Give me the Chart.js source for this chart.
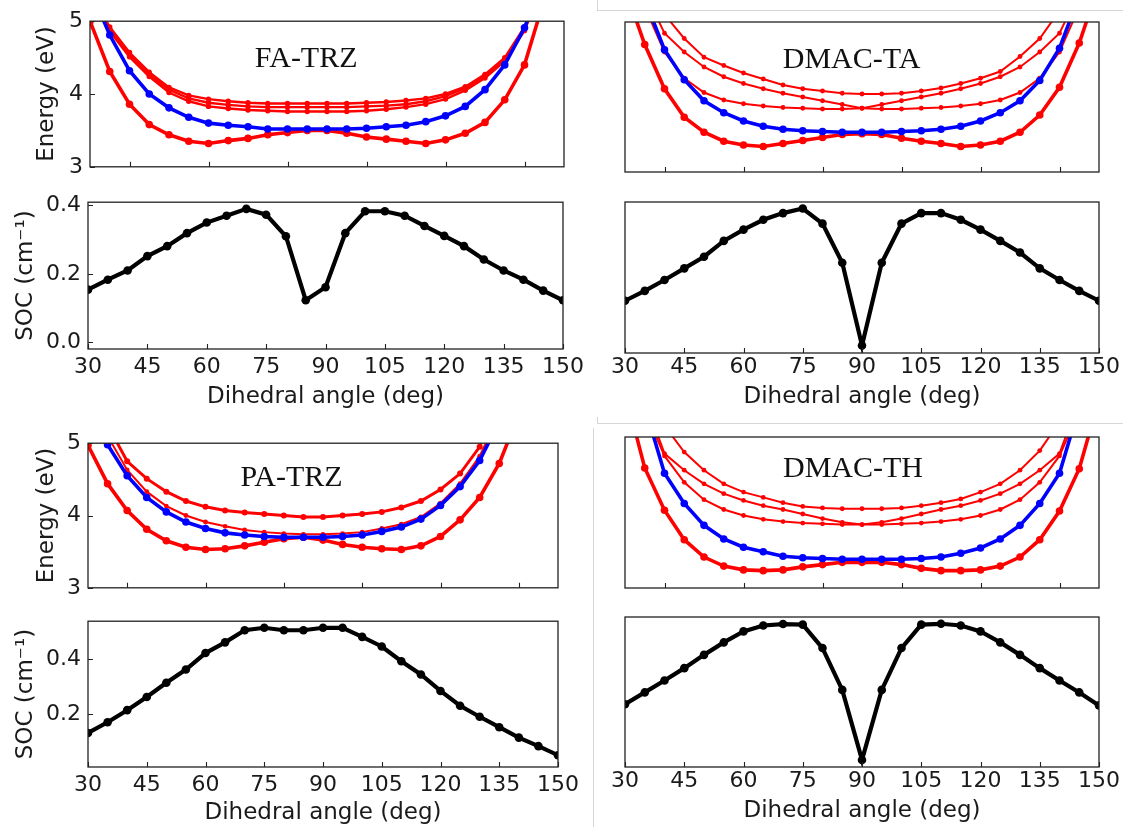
<!DOCTYPE html>
<html>
<head>
<meta charset="utf-8">
<script src="https://cdn.jsdelivr.net/npm/chart.js@4.4.0/dist/chart.umd.min.js"></script>
<style>
html,body{margin:0;padding:0;background:#fff;overflow:hidden;width:1123px;height:827px;}
canvas{position:absolute;}
.frame{position:absolute;background:#d6d6d6;}
</style>
</head>
<body>
<div class="frame" style="left:597px;top:10px;width:526px;height:1px"></div>
<div class="frame" style="left:597px;top:0px;width:1px;height:10px"></div>
<div class="frame" style="left:597px;top:423px;width:526px;height:1px"></div>
<div class="frame" style="left:597px;top:417px;width:1px;height:6px"></div>
<div class="frame" style="left:593px;top:428px;width:1px;height:399px"></div>
<script>
// ---------------- data ----------------
const angles = [30,35,40,45,50,55,60,65,70,75,80,85,90,95,100,105,110,115,120,125,130,135,140,145,150];
const energyXTicks = [40,60,80,100,120,140];
const socXTicks = [30,45,60,75,90,105,120,135,150];
const energyYTicks = [3,4,5];
const socYTicksTop = [0.0,0.2,0.4];
const socYTicksBottom = [0.2,0.4];

// FA-TRZ
const faLow  = [5.0,4.31,3.86,3.58,3.44,3.35,3.32,3.36,3.39,3.44,3.47,3.50,3.50,3.46,3.41,3.38,3.35,3.32,3.37,3.46,3.61,3.92,4.40,5.3,6.2];
const faBlue = [5.45,4.81,4.32,4.00,3.81,3.68,3.60,3.57,3.55,3.52,3.52,3.52,3.52,3.52,3.53,3.55,3.57,3.62,3.70,3.83,4.06,4.40,4.91,5.6,6.4];
const faUp1  = [5.4,4.92,4.57,4.30,4.09,3.98,3.93,3.90,3.88,3.87,3.87,3.87,3.87,3.87,3.88,3.89,3.91,3.94,4.00,4.10,4.27,4.50,4.92,5.6,6.4];
const faUp2  = [5.38,4.89,4.54,4.27,4.06,3.94,3.88,3.85,3.83,3.82,3.82,3.82,3.82,3.82,3.83,3.84,3.86,3.90,3.97,4.08,4.25,4.48,4.90,5.58,6.4];
const faUp3  = [5.35,4.86,4.51,4.24,4.02,3.90,3.83,3.80,3.78,3.77,3.76,3.76,3.76,3.76,3.77,3.79,3.82,3.86,3.93,4.05,4.22,4.45,4.87,5.55,6.4];
const faSOC  = [0.154,0.183,0.21,0.252,0.281,0.319,0.35,0.37,0.39,0.373,0.31,0.123,0.161,0.319,0.383,0.383,0.37,0.34,0.311,0.281,0.242,0.21,0.183,0.151,0.123];

// DMAC-TA
const taLow  = [5.45,4.70,4.11,3.73,3.53,3.41,3.36,3.34,3.38,3.42,3.46,3.50,3.51,3.50,3.45,3.41,3.38,3.34,3.36,3.41,3.53,3.76,4.13,4.72,5.5];
const taBlue = [6.2,5.3,4.63,4.23,3.95,3.79,3.68,3.61,3.57,3.55,3.54,3.53,3.53,3.53,3.54,3.55,3.57,3.61,3.68,3.79,3.95,4.22,4.65,5.35,6.2];
const taUpT  = [6.6,5.7,5.1,4.78,4.53,4.42,4.32,4.24,4.16,4.11,4.08,4.05,4.04,4.04,4.05,4.08,4.12,4.18,4.25,4.34,4.54,4.78,5.15,5.8,6.6];
const taUpA  = [6.3,5.4,4.85,4.6,4.4,4.27,4.18,4.11,4.05,4.0,3.95,3.9,3.85,3.84,3.84,3.85,3.86,3.88,3.91,3.96,4.06,4.25,4.6,5.2,6.1];
const taUpB  = [6.1,5.2,4.6,4.25,4.06,3.96,3.91,3.88,3.86,3.85,3.84,3.84,3.85,3.9,3.95,4.0,4.05,4.11,4.18,4.27,4.4,4.6,4.85,5.4,6.3];
const taSOC  = [0.129,0.157,0.188,0.221,0.254,0.299,0.331,0.359,0.378,0.391,0.348,0.237,0.002,0.237,0.348,0.378,0.378,0.359,0.331,0.299,0.266,0.221,0.188,0.157,0.129];

// PA-TRZ
const paLow  = [4.97,4.44,4.07,3.81,3.65,3.56,3.53,3.54,3.58,3.63,3.68,3.70,3.66,3.60,3.56,3.54,3.53,3.58,3.71,3.94,4.25,4.72,5.4,6.2,7.0];
const paBlue = [5.6,4.98,4.55,4.25,4.05,3.91,3.82,3.76,3.73,3.71,3.70,3.70,3.70,3.71,3.73,3.78,3.84,3.95,4.14,4.40,4.76,5.3,6.0,6.8,7.5];
const paUpT  = [6.0,5.25,4.75,4.51,4.33,4.2,4.12,4.07,4.04,4.02,4.0,3.98,3.98,4.0,4.02,4.05,4.11,4.2,4.36,4.58,4.95,5.6,6.3,7.0,7.7];
const paUpM  = [5.8,5.1,4.63,4.33,4.13,4.0,3.91,3.85,3.8,3.77,3.75,3.74,3.74,3.75,3.77,3.82,3.88,3.98,4.17,4.44,4.82,5.4,6.1,6.8,7.5];
const paSOC  = [0.131,0.17,0.214,0.262,0.314,0.362,0.422,0.461,0.505,0.514,0.505,0.505,0.514,0.514,0.481,0.446,0.392,0.344,0.284,0.23,0.19,0.152,0.114,0.083,0.05];

// DMAC-TH
const thLow  = [5.6,4.59,4.03,3.64,3.41,3.29,3.24,3.23,3.24,3.28,3.31,3.34,3.34,3.34,3.31,3.26,3.23,3.23,3.24,3.29,3.41,3.64,4.02,4.58,5.5];
const thBlue = [6.3,5.4,4.52,4.12,3.83,3.65,3.54,3.48,3.42,3.40,3.39,3.38,3.38,3.38,3.38,3.39,3.41,3.46,3.53,3.65,3.83,4.12,4.52,5.4,6.3];
const thUpT  = [6.8,5.9,5.15,4.8,4.56,4.38,4.27,4.2,4.13,4.08,4.06,4.05,4.05,4.05,4.06,4.09,4.13,4.18,4.27,4.38,4.56,4.82,5.2,5.9,6.8];
const thUpA  = [6.5,5.5,4.78,4.56,4.38,4.25,4.16,4.09,4.04,3.98,3.92,3.87,3.84,3.84,3.85,3.86,3.88,3.91,3.96,4.04,4.17,4.4,4.75,5.35,6.3];
const thUpB  = [6.3,5.35,4.75,4.4,4.17,4.04,3.96,3.91,3.88,3.86,3.85,3.84,3.84,3.87,3.92,3.98,4.04,4.09,4.16,4.25,4.38,4.56,4.78,5.5,6.5];
const thSOC  = [0.229,0.271,0.313,0.357,0.404,0.448,0.487,0.508,0.513,0.511,0.428,0.280,0.032,0.280,0.428,0.511,0.514,0.508,0.487,0.448,0.404,0.357,0.313,0.271,0.225];

// ---------------- styling ----------------
const RED = '#ff0000', BLUE = '#0000ff', BLACK = '#000000';
const FONT = 'DejaVu Sans';
const TXT = '#1a1a1a';

function ds(values, color, width, radius) {
  return {
    data: angles.map((a, i) => ({ x: a, y: values[i] })),
    borderColor: color, backgroundColor: color,
    borderWidth: width, pointRadius: radius, pointHoverRadius: 0,
    pointBackgroundColor: color, pointBorderWidth: 0,
    tension: 0, fill: false
  };
}

const framePlugin = {
  id: 'frameTicks',
  afterDraw(chart, args, opts) {
    const { ctx, chartArea: { left, right, top, bottom } } = chart;
    ctx.save();
    ctx.strokeStyle = '#222';
    ctx.lineWidth = 1.3;
    ctx.strokeRect(left, top, right - left, bottom - top);
    ctx.lineWidth = 1.1;
    ctx.beginPath();
    const xs = chart.scales.x;
    xs.ticks.forEach(t => {
      const px = Math.round(xs.getPixelForValue(t.value)) + 0.5;
      ctx.moveTo(px, bottom); ctx.lineTo(px, bottom - 5);
    });
    if (opts.yTicks) {
      const ys = chart.scales.y;
      ys.ticks.forEach(t => {
        const py = Math.round(ys.getPixelForValue(t.value)) + 0.5;
        ctx.moveTo(left, py); ctx.lineTo(left + 5, py);
      });
    }
    ctx.stroke();
    ctx.restore();
  }
};

const labelPlugin = {
  id: 'panelLabel',
  afterDatasetsDraw(chart, args, opts) {
    if (!opts.text) return;
    const { ctx, chartArea: { left, right, top, bottom } } = chart;
    ctx.save();
    ctx.font = '30px "Liberation Serif", "DejaVu Serif", serif';
    ctx.fillStyle = '#111';
    ctx.textAlign = 'center';
    ctx.textBaseline = 'alphabetic';
    ctx.fillText(opts.text, left + opts.fx * (right - left), top + opts.fy * (bottom - top) + 10);
    ctx.restore();
  }
};

function makePanel(p) {
  const cv = document.createElement('canvas');
  const [l, r, t, b] = p.box;
  const W = p.yAxisW + p.padL + (r - l) + p.padR;
  const H = p.padT + (b - t) + p.xAxisH + p.padB;
  cv.width = W; cv.height = H;
  cv.style.left = (l - p.yAxisW - p.padL) + 'px';
  cv.style.top = (t - p.padT) + 'px';
  cv.style.width = W + 'px'; cv.style.height = H + 'px';
  document.body.appendChild(cv);
  const tickFont = { family: FONT, size: 22, lineHeight: 1.2 };
  const titleFont = { family: FONT, size: 23, lineHeight: 1.2 };
  new Chart(cv.getContext('2d'), {
    type: 'line',
    data: { datasets: p.datasets },
    plugins: [framePlugin, labelPlugin],
    options: {
      responsive: false, animation: false, events: [],
      layout: { autoPadding: false, padding: { left: p.padL, right: p.padR, top: p.padT, bottom: p.padB } },
      plugins: {
        legend: { display: false }, tooltip: { enabled: false },
        frameTicks: { yTicks: p.yTickMarks },
        panelLabel: p.label || {}
      },
      scales: {
        x: {
          type: 'linear', min: 30, max: 150,
          afterBuildTicks: s => { s.ticks = p.xTicks.map(v => ({ value: v })); },
          afterFit: s => { s.height = p.xAxisH; },
          grid: { display: false, drawTicks: false }, border: { display: false },
          ticks: { display: p.xLabels, font: tickFont, color: TXT, padding: p.xTickPad, maxRotation: 0, autoSkip: false, callback: v => String(v) },
          title: { display: p.xLabels, text: 'Dihedral angle (deg)', font: titleFont, color: TXT, padding: { top: 0, bottom: 0 } }
        },
        y: {
          type: 'linear', min: p.yMin, max: p.yMax,
          afterBuildTicks: s => { s.ticks = p.yTicks.map(v => ({ value: v })); },
          afterFit: s => { s.width = p.yAxisW; },
          grid: { display: false, drawTicks: false }, border: { display: false },
          ticks: { display: p.yLabels, font: tickFont, color: TXT, padding: 7, callback: p.yFmt },
          title: { display: !!p.yTitle, text: p.yTitle || '', font: titleFont, color: TXT, padding: { top: p.yTitlePad || 0, bottom: 0 } }
        }
      }
    }
  });
}

const eFmt = v => String(v);
const sFmt = v => v.toFixed(1);

const W_MAIN = 3.6, R_MAIN = 3.8, W_THIN = 2.0, R_THIN = 2.4, W_SOC = 4.2, R_SOC = 4.3;

// FA-TRZ energy
makePanel({ box: [90, 564, 19, 169], yAxisW: 90, padL: 0, padR: 4, padT: 18, padB: 18, xAxisH: 0,
  xTicks: energyXTicks, xLabels: false, xTickPad: 0,
  yMin: 3, yMax: 5, yTicks: energyYTicks, yLabels: true, yFmt: eFmt, yTitle: 'Energy (eV)', yTitlePad: 33, yTickMarks: true,
  label: { text: 'FA-TRZ', fx: 0.456, fy: 0.247 },
  datasets: [ds(faBlue, BLUE, W_MAIN, R_MAIN), ds(faLow, RED, W_MAIN, R_MAIN), ds(faUp3, RED, 2.4, 2.7), ds(faUp2, RED, 2.4, 2.7), ds(faUp1, RED, 2.4, 2.7)] });

// FA-TRZ SOC
makePanel({ box: [88, 563, 200, 349], yAxisW: 88, padL: 0, padR: 28, padT: 18, padB: 4, xAxisH: 62,
  xTicks: socXTicks, xLabels: true, xTickPad: 5,
  yMin: -0.0195, yMax: 0.4095, yTicks: socYTicksTop, yLabels: true, yFmt: sFmt, yTitle: 'SOC (cm\u207B\u00B9)', yTitlePad: 12, yTickMarks: true,
  datasets: [ds(faSOC, BLACK, W_SOC, R_SOC)] });

// DMAC-TA energy
makePanel({ box: [625, 1099, 22, 172], yAxisW: 0, padL: 4, padR: 4, padT: 4, padB: 4, xAxisH: 0,
  xTicks: energyXTicks, xLabels: false, xTickPad: 0,
  yMin: 3, yMax: 5, yTicks: energyYTicks, yLabels: false, yFmt: eFmt, yTickMarks: false,
  label: { text: 'DMAC-TA', fx: 0.478, fy: 0.241 },
  datasets: [ds(taBlue, BLUE, W_MAIN, R_MAIN), ds(taLow, RED, W_MAIN, R_MAIN), ds(taUpB, RED, W_THIN, R_THIN), ds(taUpA, RED, W_THIN, R_THIN), ds(taUpT, RED, W_THIN, R_THIN)] });

// DMAC-TA SOC
makePanel({ box: [625, 1099, 202, 353], yAxisW: 0, padL: 20, padR: 24, padT: 4, padB: 4, xAxisH: 58,
  xTicks: socXTicks, xLabels: true, xTickPad: 1,
  yMin: -0.0195, yMax: 0.4095, yTicks: socYTicksTop, yLabels: false, yFmt: sFmt, yTickMarks: false,
  datasets: [ds(taSOC, BLACK, W_SOC, R_SOC)] });

// PA-TRZ energy
makePanel({ box: [88, 558, 441, 590], yAxisW: 88, padL: 0, padR: 4, padT: 18, padB: 18, xAxisH: 0,
  xTicks: energyXTicks, xLabels: false, xTickPad: 0,
  yMin: 3, yMax: 5, yTicks: energyYTicks, yLabels: true, yFmt: eFmt, yTitle: 'Energy (eV)', yTitlePad: 33, yTickMarks: true,
  label: { text: 'PA-TRZ', fx: 0.433, fy: 0.228 },
  datasets: [ds(paBlue, BLUE, W_MAIN, R_MAIN), ds(paLow, RED, W_MAIN, R_MAIN), ds(paUpM, RED, W_THIN, R_THIN), ds(paUpT, RED, 3, 3)] });

// PA-TRZ SOC
makePanel({ box: [88, 558, 619, 767], yAxisW: 88, padL: 0, padR: 28, padT: 18, padB: 0, xAxisH: 60,
  xTicks: socXTicks, xLabels: true, xTickPad: 5,
  yMin: 0.007, yMax: 0.538, yTicks: socYTicksBottom, yLabels: true, yFmt: sFmt, yTitle: 'SOC (cm\u207B\u00B9)', yTitlePad: 12, yTickMarks: true,
  datasets: [ds(paSOC, BLACK, W_SOC, R_SOC)] });

// DMAC-TH energy
makePanel({ box: [625, 1099, 437, 588], yAxisW: 0, padL: 4, padR: 4, padT: 4, padB: 4, xAxisH: 0,
  xTicks: energyXTicks, xLabels: false, xTickPad: 0,
  yMin: 3, yMax: 5, yTicks: energyYTicks, yLabels: false, yFmt: eFmt, yTickMarks: false,
  label: { text: 'DMAC-TH', fx: 0.481, fy: 0.2 },
  datasets: [ds(thBlue, BLUE, W_MAIN, R_MAIN), ds(thLow, RED, W_MAIN, R_MAIN), ds(thUpB, RED, W_THIN, R_THIN), ds(thUpA, RED, W_THIN, R_THIN), ds(thUpT, RED, W_THIN, R_THIN)] });

// DMAC-TH SOC
makePanel({ box: [625, 1099, 617, 767], yAxisW: 0, padL: 20, padR: 24, padT: 4, padB: 0, xAxisH: 58,
  xTicks: socXTicks, xLabels: true, xTickPad: 1,
  yMin: 0.007, yMax: 0.538, yTicks: socYTicksBottom, yLabels: false, yFmt: sFmt, yTickMarks: false,
  datasets: [ds(thSOC, BLACK, W_SOC, R_SOC)] });
</script>
</body>
</html>
